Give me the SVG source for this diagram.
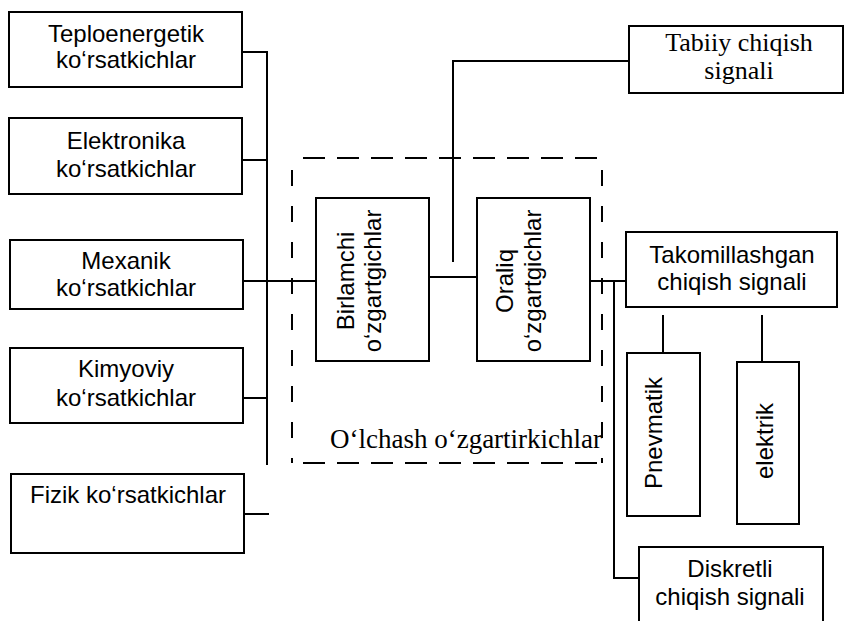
<svg xmlns="http://www.w3.org/2000/svg" width="845" height="621" viewBox="0 0 845 621">
<style>
.box{fill:#fff;stroke:#000;stroke-width:2}
.ln{fill:none;stroke:#000;stroke-width:2}
.dh{fill:none;stroke:#000;stroke-width:2;stroke-dasharray:22 12}
.dv{fill:none;stroke:#000;stroke-width:2;stroke-dasharray:16 20}
.s{font-family:"Liberation Sans",Arial,sans-serif;font-size:24px;text-anchor:middle;fill:#000}
.r{font-family:"Liberation Serif","Times New Roman",serif;font-size:27px;text-anchor:middle;fill:#000}
.t{font-family:"Liberation Serif","Times New Roman",serif;font-size:26px;text-anchor:middle;fill:#000}
</style>
<rect width="845" height="621" fill="#fff"/>
<g id="connectors">
<path class="ln" d="M242 52H267V465"/>
<path class="ln" d="M242 160H267"/>
<path class="ln" d="M243 281H316"/>
<path class="ln" d="M243 398H267"/>
<path class="ln" d="M244 514H269"/>
<path class="ln" d="M429 277H477"/>
<path class="ln" d="M453 262V61H629"/>
<path class="ln" d="M590 281H626"/>
<path class="ln" d="M614 281V578H639"/>
<path class="ln" d="M663 315V353"/>
<path class="ln" d="M762 315V362"/>
</g>
<g id="measuring-group">
<path class="dh" d="M303 158H602"/>
<path class="dh" d="M303 463H602"/>
<path class="dv" d="M292 170V463"/>
<path class="dv" d="M602 170V463"/>
<text class="r" x="466" y="448">O‘lchash o‘zgartirkichlar</text>
</g>
<g id="teploenergetik">
<rect class="box" x="9" y="12" width="233" height="75"/>
<text class="s" x="126" y="42">Teploenergetik</text>
<text class="s" x="126" y="68">ko‘rsatkichlar</text>
</g>
<g id="elektronika">
<rect class="box" x="9" y="118" width="233" height="76"/>
<text class="s" x="126" y="149">Elektronika</text>
<text class="s" x="126" y="177">ko‘rsatkichlar</text>
</g>
<g id="mexanik">
<rect class="box" x="10" y="240" width="233" height="69"/>
<text class="s" x="126" y="269">Mexanik</text>
<text class="s" x="126" y="296">ko‘rsatkichlar</text>
</g>
<g id="kimyoviy">
<rect class="box" x="10" y="348" width="233" height="75"/>
<text class="s" x="126" y="377">Kimyoviy</text>
<text class="s" x="126" y="406">ko‘rsatkichlar</text>
</g>
<g id="fizik">
<rect class="box" x="11" y="474" width="233" height="79"/>
<text class="s" x="128" y="503">Fizik ko‘rsatkichlar</text>
</g>
<g id="birlamchi">
<rect class="box" x="316" y="198" width="113" height="163"/>
<text class="s" transform="translate(354 281) rotate(-90)">Birlamchi</text>
<text class="s" transform="translate(381 281) rotate(-90)">o‘zgartgichlar</text>
</g>
<g id="oraliq">
<rect class="box" x="477" y="198" width="113" height="163"/>
<text class="s" transform="translate(513 281) rotate(-90)">Oraliq</text>
<text class="s" transform="translate(541 281) rotate(-90)">o‘zgartgichlar</text>
</g>
<g id="tabiiy">
<rect class="box" x="629" y="26" width="214" height="67"/>
<text class="t" x="739" y="51">Tabiiy chiqish</text>
<text class="t" x="739" y="79">signali</text>
</g>
<g id="takomillashgan">
<rect class="box" x="626" y="232" width="211" height="75"/>
<text class="s" x="732" y="263">Takomillashgan</text>
<text class="s" x="732" y="290">chiqish signali</text>
</g>
<g id="pnevmatik">
<rect class="box" x="627" y="353" width="73" height="163"/>
<text class="s" transform="translate(662 433) rotate(-90)">Pnevmatik</text>
</g>
<g id="elektrik">
<rect class="box" x="737" y="362" width="62" height="162"/>
<text class="s" transform="translate(773 441) rotate(-90)">elektrik</text>
</g>
<g id="diskretli">
<rect class="box" x="639" y="547" width="184" height="80"/>
<text class="s" x="730" y="577">Diskretli</text>
<text class="s" x="730" y="605">chiqish signali</text>
</g>
</svg>
